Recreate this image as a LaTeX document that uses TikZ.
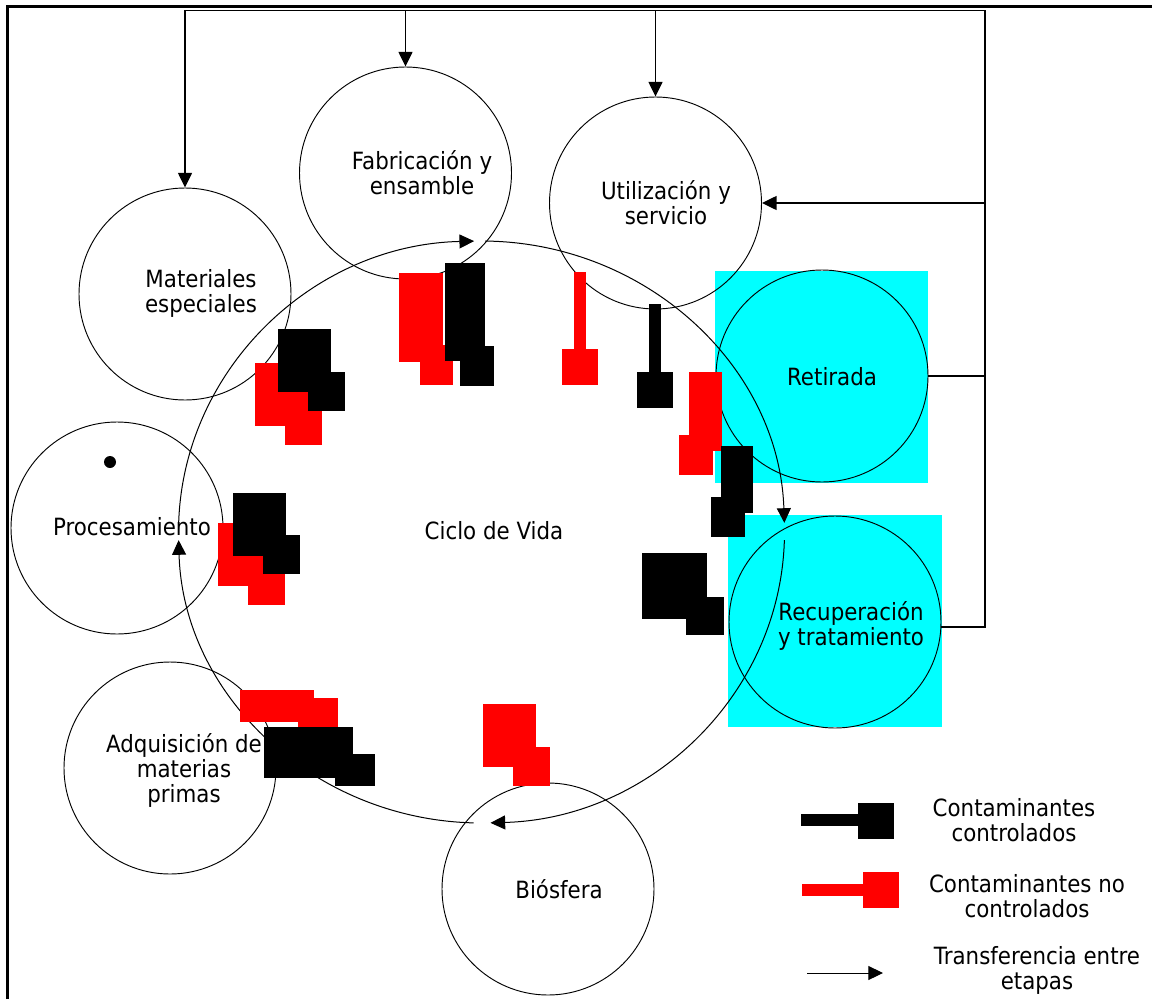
\documentclass[tikz,border=0pt]{standalone}
\usepackage{fontspec}
\setmainfont{DejaVu Sans}[FakeStretch=0.9]
\usetikzlibrary{arrows.meta}
\definecolor{aqua}{RGB}{0,255,255}
\definecolor{purered}{RGB}{255,0,0}

\begin{document}
\begin{tikzpicture}[x=0.75pt,y=-0.75pt,
  stage/.style={circle, draw, line width=0.7pt, minimum size=159pt, inner sep=0pt},
  lbl/.style={font=\fontsize{17.8}{18.75}\selectfont, align=center, inner sep=0pt},
  tip/.style={-{Triangle[length=11pt,width=10.5pt]}},
  flow/.style={line width=0.75pt, tip},
  fb/.style={line width=1pt},
  ctrl/.style={fill=black},
  unctrl/.style={fill=purered},
  hilite/.style={fill=aqua}]
\useasboundingbox (0,0) rectangle (1152,999);

% outer frame (top and left edges only)
\draw[line width=2pt] (7.8,999) -- (7.8,6.8) -- (1152,6.8);

% highlighted end-of-life stages
\fill[hilite] (715,271) rectangle (928,483);
\fill[hilite] (728,515) rectangle (942,727);

% stages of the life cycle
\node[stage] (mat) at (185,294) {};
\node[stage] (fab) at (405.5,173) {};
\node[stage] (uti) at (655.5,203) {};
\node[stage] (ret) at (822,376) {};
\node[stage] (rec) at (835,622) {};
\node[stage] (pro) at (117,528) {};
\node[stage] (adq) at (170,768) {};
\node[stage] (bio) at (548,889) {};

\node[lbl] (matT) at (201,293) {Materiales\\especiales};
\node[lbl] (fabT) at (422,173) {Fabricación y\\ensamble};
\node[lbl] (utiT) at (666,203) {Utilización y\\servicio};
\node[lbl] (retT) at (832,377) {Retirada};
\node[lbl] (recT) at (851,626) {Recuperación\\y tratamiento};
\node[lbl] (proT) at (132,527) {Procesamiento};
\node[lbl] (adqT) at (184,770) {Adquisición de\\materias\\primas};
\node[lbl] (bioT) at (559,889) {Biósfera};
\node[lbl] (cycT) at (494,531) {Ciclo de Vida};

% marker dot inside Procesamiento
\fill (110,462) circle[radius=6];

% the life cycle: four clockwise arcs
\coordinate (cyc) at (481.5,532);
\draw[flow] (cyc) ++(180.6:303 and 291) arc[start angle=180.6, end angle=268.6, x radius=303, y radius=291];
\draw[flow] (cyc) ++(270.7:303 and 291) arc[start angle=270.7, end angle=358.2, x radius=303, y radius=291];
\draw[flow] (cyc) ++(1.6:303 and 291) arc[start angle=1.6, end angle=88.3, x radius=303, y radius=291];
\draw[flow] (cyc) ++(91.5:303 and 291) arc[start angle=91.5, end angle=178.4, x radius=303, y radius=291];

% feedback loop from the end-of-life stages
\coordinate (fbR) at (985,10.5);
\coordinate (fbL) at (185,10.5);
\draw[fb] (rec.east |- 0,627) -- (fbR |- 0,627) -- (fbR) -- (fbL);
\draw[fb, tip] (fbL) -- (mat.north);
\draw[fb, tip] (fab.north |- fbR) -- (fab.north);
\draw[fb, tip] (uti.north |- fbR) -- (uti.north);
\draw[fb, tip] (uti.east -| fbR) -- (uti.east);
\draw[fb] (ret.east) -- (ret.east -| fbR);

% emissions near Materiales especiales
\fill[unctrl] (255,363) rectangle (308,426);
\fill[unctrl] (285,406) rectangle (322,445);
\fill[ctrl] (278,329) rectangle (331,392);
\fill[ctrl] (308,372) rectangle (345,411);

% emissions near Fabricacion
\fill[unctrl] (399,273) rectangle (443,362);
\fill[unctrl] (420,345) rectangle (453,385);
\fill[ctrl] (445,263) rectangle (485,361);
\fill[ctrl] (460,346) rectangle (494,386);

% emissions near Utilizacion
\fill[unctrl] (574,272) rectangle (586,350);
\fill[unctrl] (562,349) rectangle (598,385);
\fill[ctrl] (649,304) rectangle (661,373);
\fill[ctrl] (637,372) rectangle (673,408);

% emissions near Retirada
\fill[unctrl] (689,372) rectangle (722,451);
\fill[unctrl] (679,435) rectangle (713,475);
\fill[ctrl] (721,446) rectangle (753,513);
\fill[ctrl] (711,497) rectangle (745,537);

% emissions near Recuperacion
\fill[ctrl] (642,553) rectangle (707,619);
\fill[ctrl] (686,597) rectangle (724,635);

% emissions near Procesamiento
\fill[unctrl] (218,523) rectangle (271,586);
\fill[unctrl] (248,566) rectangle (285,605);
\fill[ctrl] (233,493) rectangle (286,556);
\fill[ctrl] (263,535) rectangle (300,574);

% emissions near Adquisicion
\fill[unctrl] (240,690) rectangle (314,722);
\fill[unctrl] (298,698) rectangle (338,730);
\fill[ctrl] (264,727) rectangle (353,778);
\fill[ctrl] (335,754) rectangle (375,786);

% emissions near Biosfera
\fill[unctrl] (483,704) rectangle (536,767);
\fill[unctrl] (513,747) rectangle (550,786);

% legend
\fill[ctrl] (801,814) rectangle (859,826);
\fill[ctrl] (858,803) rectangle (894,839);
\node[lbl] (legC) at (1014,820) {Contaminantes\\controlados};
\fill[unctrl] (802,884) rectangle (864,896);
\fill[unctrl] (863,872) rectangle (899,908);
\node[lbl] (legU) at (1027,896) {Contaminantes no\\controlados};
\coordinate (legA1) at (807,973);
\coordinate (legA2) at (883,973);
\draw[flow] (legA1) -- (legA2);
\node[lbl] (legT) at (1037,970) {Transferencia entre\\etapas};
\end{tikzpicture}
\end{document}
